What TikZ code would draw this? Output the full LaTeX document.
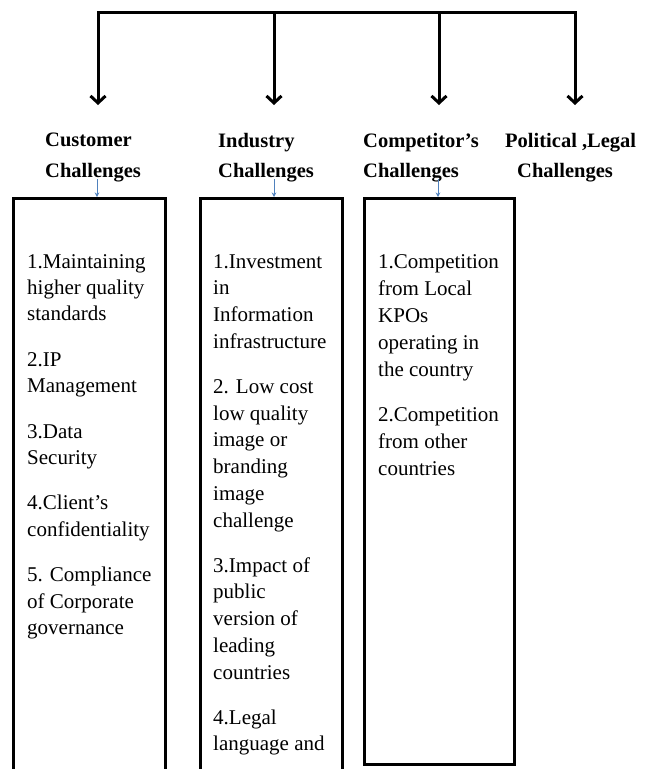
\documentclass[tikz,border=0pt]{standalone}
\usepackage{fontspec}
\setmainfont{Liberation Serif}
\usetikzlibrary{arrows.meta,positioning}
\definecolor{linkblue}{RGB}{79,129,189}

\begin{document}
\begin{tikzpicture}[x=1pt, y=-1pt,
    head/.style={font=\fontsize{20.5}{30.5}\selectfont\bfseries, inner sep=0pt},
    items/.style={font=\fontsize{21}{#1}\selectfont, align=left, inner sep=0pt, anchor=north west},
    col/.style={draw, rectangle, line width=2.5pt, inner sep=0pt, anchor=north west},
    branch/.style={line width=3pt, -{Straight Barb[length=7pt,width=15pt]}},
    link/.style={linkblue, line width=0.9pt, -{Stealth[length=4.5pt,width=4.5pt]}}]
    \useasboundingbox (0,0) rectangle (645,769);
    \clip (0,0) rectangle (645,769);

    % top bar and branches
    \coordinate (T1) at (98,12);
    \coordinate (T2) at (274,12);
    \coordinate (T3) at (439,12);
    \coordinate (T4) at (575,12);
    \coordinate (E1) at (98,105);
    \coordinate (E2) at (274,105);
    \coordinate (E3) at (439,105);
    \coordinate (E4) at (575,105);

    \draw[line width=3pt, line cap=rect] (T1) -- (T4);
    \draw[branch] (T1) -- (E1);
    \draw[branch] (T2) -- (E2);
    \draw[branch] (T3) -- (E3);
    \draw[branch] (T4) -- (E4);

    % headings
    \node[head, align=left, anchor=north west] (HC) at (45,133) {Customer\\Challenges};
    \node[head, align=left, anchor=north west] (HI) at (218,133) {Industry\\Challenges};
    \node[head, align=left, anchor=north west] (HK) at (363,133) {Competitor’s\\Challenges};
    \node[head, align=left, anchor=north west] (HP) at (505,133) {Political ,Legal\\\hspace*{12pt}Challenges};

    % columns
    \node[col, minimum width=152pt, minimum height=600pt] (C) at (12,197) {};
    \node[col, minimum width=142pt, minimum height=600pt] (I) at (199,197) {};
    \node[col, minimum width=150pt, minimum height=566pt] (K) at (363,197) {};

    \coordinate (L1) at (97,179);
    \coordinate (L2) at (274,179);
    \coordinate (L3) at (438,179);
    \draw[link] (L1) -- (L1 |- C.north);
    \draw[link] (L2) -- (L2 |- I.north);
    \draw[link] (L3) -- (L3 |- K.north);

    \node[items=26.4] (CT) at (27,254) {1.Maintaining\\higher quality\\standards\\[19pt]2.IP\\Management\\[19pt]3.Data\\Security\\[19pt]4.Client’s\\confidentiality\\[19pt]5. Compliance\\of Corporate\\governance};
    \node[items=26.8] (IT) at (213,254) {1.Investment\\in\\Information\\infrastructure\\[18pt]2. Low cost\\low quality\\image or\\branding\\image\\challenge\\[18pt]3.Impact of\\public\\version of\\leading\\countries\\[18pt]4.Legal\\language and};
    \node[items=27] (KT) at (378,254) {1.Competition\\from Local\\KPOs\\operating in\\the country\\[18pt]2.Competition\\from other\\countries};
\end{tikzpicture}
\end{document}
